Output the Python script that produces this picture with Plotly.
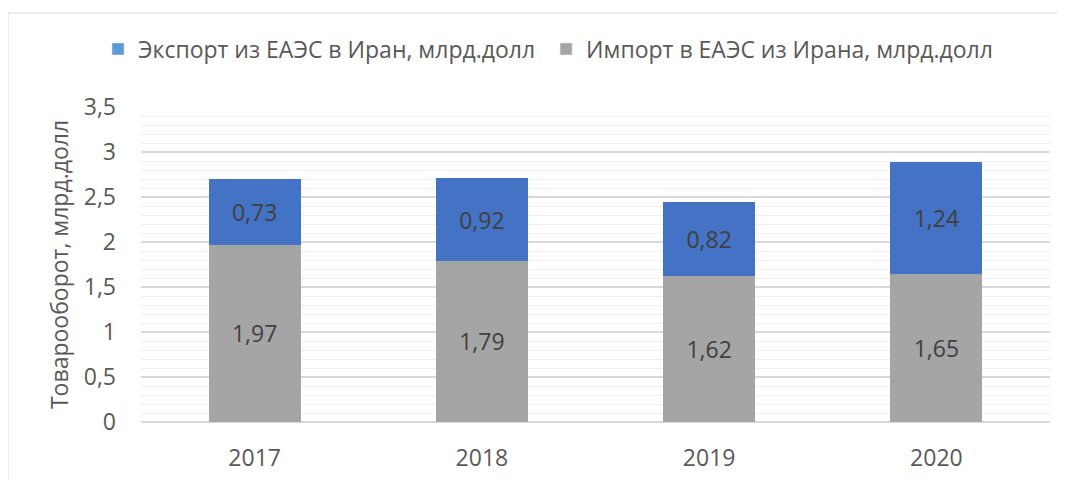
import plotly.graph_objects as go

years = ['2017', '2018', '2019', '2020']
import_vals = [1.97, 1.79, 1.62, 1.65]
export_vals = [0.73, 0.92, 0.82, 1.24]

export_name = 'Экспорт из ЕАЭС в Иран, млрд.долл'
import_name = 'Импорт в ЕАЭС из Ирана, млрд.долл'
y_title = 'Товарооборот, млрд.долл'

FONT = 'Open Sans'
SIZE = 23
TEXT = '#595959'

# the page body adds an 8px offset, so margins below are shifted by 8px
L, T = 133, 99
PW, PH = 909, 315

fig = go.Figure()
fig.add_trace(go.Bar(
    x=years, y=import_vals, name=import_name,
    marker=dict(color='#A5A5A5', line=dict(width=0)),
    texttemplate='%{y:.2f}', textposition='inside',
    insidetextanchor='middle', textangle=0,
    textfont=dict(family=FONT, size=SIZE, color='#404040'),
    showlegend=False,
))
fig.add_trace(go.Bar(
    x=years, y=export_vals, name=export_name,
    marker=dict(color='#4472C4', line=dict(width=0)),
    texttemplate='%{y:.2f}', textposition='inside',
    insidetextanchor='middle', textangle=0,
    textfont=dict(family=FONT, size=SIZE, color='#404040'),
    showlegend=False,
))
# legend entries (the legend squares are a lighter tone than the bars)
fig.add_trace(go.Bar(x=[None], y=[None], name=export_name + '\u00a0',
                     marker=dict(color='#5B9BD5'), legendrank=1))
fig.add_trace(go.Bar(x=[None], y=[None], name=import_name,
                     marker=dict(color='#A5A5A5'), legendrank=2))

fig.update_layout(
    width=1065, height=480,
    barmode='stack', bargap=0.595,
    separators=', ',
    margin=dict(l=L, r=1065 - L - PW, t=T, b=480 - T - PH),
    paper_bgcolor='white', plot_bgcolor='white',
    font=dict(family=FONT, size=SIZE, color=TEXT),
    legend=dict(orientation='h', x=(540 - L) / PW, xanchor='center',
                y=(T + PH - 41) / PH, yanchor='middle',
                font=dict(family=FONT, size=SIZE, color=TEXT),
                traceorder='normal', itemwidth=30, bgcolor='rgba(0,0,0,0)'),
    xaxis=dict(showgrid=False, ticks='', ticklabelstandoff=20,
               tickfont=dict(size=SIZE, color=TEXT), showline=False),
    yaxis=dict(range=[0, 3.5], dtick=0.5, tick0=0, tickformat='.1~f',
               showgrid=True, gridcolor='#D9D9D9', gridwidth=1.5,
               zeroline=True, zerolinecolor='#D9D9D9', zerolinewidth=1.5,
               minor=dict(dtick=0.1, showgrid=True, gridcolor='#EFEFEF', gridwidth=1),
               ticklabelstandoff=24, tickfont=dict(size=SIZE, color=TEXT),
               title=dict(text=y_title, standoff=8,
                          font=dict(size=SIZE, color=TEXT))),
    shapes=[dict(type='rect', xref='paper', yref='paper',
                 x0=-L / PW, x1=1.1, y0=-0.3, y1=(T + PH - 5) / PH,
                 line=dict(color='#D9D9D9', width=1), layer='below')],
)

fig.write_html('out.html')
